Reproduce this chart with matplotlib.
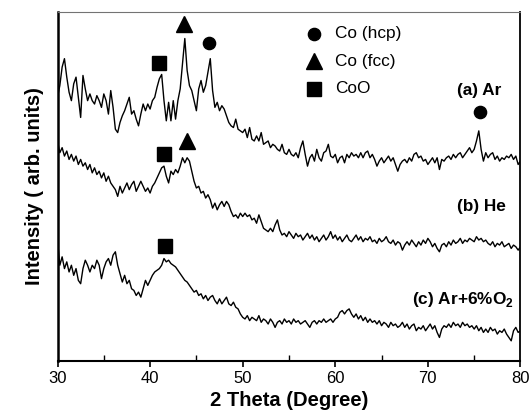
import numpy as np
import matplotlib
matplotlib.use('Agg')
import matplotlib.pyplot as plt
from matplotlib.ticker import MultipleLocator

plt.rcParams['font.family'] = ['Liberation Sans', 'DejaVu Sans']
plt.rcParams['mathtext.fontset'] = 'custom'
plt.rcParams['mathtext.rm'] = 'Liberation Sans'
plt.rcParams['mathtext.bf'] = 'Liberation Sans:bold'

# 2 theta sampling grid (degrees), 0.25 deg step
two_theta = np.linspace(30, 80, 201)

# (a) Ar  -- intensity (arb. units)
int_ar = [
    785, 820, 875, 900, 845, 800, 775, 825, 845, 785,
    725, 850, 810, 775, 795, 775, 765, 790, 775, 755,
    795, 775, 735, 805, 755, 690, 680, 710, 730, 745,
    765, 785, 735, 745, 720, 700, 735, 765, 745, 765,
    750, 775, 785, 815, 840, 853, 775, 715, 770, 715,
    775, 720, 775, 810, 885, 960, 865, 820, 805, 775,
    745, 810, 835, 800, 820, 860, 900, 805, 755, 770,
    745, 760, 750, 730, 710, 700, 695, 720, 690, 685,
    680, 690, 665, 695, 660, 655, 670, 655, 680, 645,
    650, 655, 635, 645, 640, 630, 625, 645, 620, 615,
    630, 615, 610, 620, 605, 635, 655, 615, 580, 605,
    615, 595, 630, 605, 595, 620, 625, 645, 610, 605,
    615, 590, 605, 610, 590, 615, 605, 620, 610, 615,
    605, 620, 605, 620, 625, 605, 615, 600, 580, 595,
    605, 590, 600, 610, 595, 605, 585, 565, 585, 595,
    600, 590, 605, 595, 615, 620, 605, 610, 595, 600,
    585, 595, 605, 590, 605, 570, 600, 595, 605, 610,
    600, 615, 605, 615, 620, 605, 615, 625, 635, 620,
    630, 655, 685, 630, 595, 620, 605, 615, 620, 600,
    610, 595, 605, 600, 610, 605, 615, 600, 610, 585,
    595,
]

# (b) He
int_he = [
    655, 620, 635, 610, 625, 600, 615, 595, 610, 585,
    600, 580, 590, 570, 585, 560, 575, 555, 565, 545,
    560, 535, 550, 530, 520, 510, 490, 520, 500, 515,
    530, 510, 525, 535, 505, 520, 535, 520, 505, 515,
    500, 520, 530, 545, 560, 575, 580, 550, 530, 565,
    555, 570, 560, 580, 605, 590, 605, 595, 565, 535,
    515, 520, 500, 505, 485, 495, 480, 455, 470, 450,
    465, 475, 460, 475, 465, 445, 430, 435, 425, 440,
    430, 440, 430, 435, 420, 425, 410, 435, 415, 395,
    390, 385, 395, 385, 405, 420, 390, 375, 380, 370,
    385, 375, 365, 380, 370, 375, 360, 370, 380, 365,
    375, 360, 370, 355, 365, 375, 360, 370, 385, 365,
    375, 360, 370, 355, 365, 375, 360, 355, 365, 375,
    360, 370, 355, 365, 360, 370, 355, 360, 350, 365,
    355, 360, 370, 355, 350, 360, 345, 355, 350, 330,
    345, 355, 345, 360, 350, 340, 355, 345, 360, 350,
    365, 355, 340, 350, 335, 325, 345, 350, 340, 355,
    345, 360, 350, 355, 365, 350, 360, 355, 365, 360,
    355, 370, 360, 365, 355, 360, 350, 345, 355, 340,
    350, 345, 355, 340, 345, 350, 335, 345, 340, 330,
    340,
]

# (c) Ar + 6% O2
int_ar_o2 = [
    360, 285, 310, 275, 295, 265, 285, 255, 275, 240,
    230, 275, 300, 285, 265, 285, 275, 300, 285, 245,
    275, 295, 305, 285, 315, 325, 285, 260, 235, 255,
    230, 240, 215, 210, 195, 205, 190, 215, 240, 225,
    240, 255, 265, 270, 275, 285, 305, 295, 300, 290,
    285, 280, 270, 260, 250, 240, 235, 225, 215, 205,
    210, 195, 200, 185, 195, 180, 190, 195, 180, 170,
    185, 170, 180, 190, 170, 165, 175, 160, 155, 140,
    130, 125, 135, 120, 130, 125, 120, 135, 115, 125,
    120, 110, 125, 115, 100, 115, 120, 110, 125, 115,
    120, 110, 125, 115, 120, 110, 115, 120, 110, 100,
    115, 120, 110, 120, 115, 125, 115, 120, 125, 115,
    125, 130, 145, 150, 140, 150, 155, 140, 130, 140,
    125, 135, 120, 130, 115, 125, 115, 120, 110, 120,
    105, 115, 110, 100, 115, 105, 110, 100, 105, 115,
    100, 110, 95, 105, 110, 90, 100, 95, 105, 90,
    100, 110, 95, 105, 85, 70, 95, 105, 100, 110,
    100, 115, 105, 110, 100, 115, 105, 110, 100, 105,
    95, 105, 90, 100, 85, 95, 85, 100, 90, 95,
    80, 90, 85, 95, 80, 70, 60, 90, 100, 85,
    90,
]

curve_labels = ['(a) Ar', '(b) He', r'(c) Ar+6%O$_\mathbf{2}$']
label_theta = [77.9, 78.4, 79.3]
label_height = [805, 460, 182]

# phase markers above the reflections
phase_names = ['Co (hcp)', 'Co (fcc)', 'CoO']
phase_symbols = ['o', '^', 's']
phase_sizes = [8.8, 12, 9.5]
mark_phase = [0, 1, 2, 0, 2, 1, 2]
mark_theta = [46.4, 43.7, 41.0, 75.6, 41.5, 44.0, 41.6]
mark_height = [948, 1003, 887, 740, 617, 655, 342]

fig = plt.figure(figsize=(5.30, 4.13), dpi=100)
ax = fig.add_axes([0.1085, 0.126, 0.8735, 0.845])

for y in (int_ar, int_he, int_ar_o2):
    ax.plot(two_theta, y, color='black', lw=1.0)

for p, t, h in zip(mark_phase, mark_theta, mark_height):
    ax.plot(t, h, linestyle='none', marker=phase_symbols[p],
            markersize=phase_sizes[p], color='black')

for lab, t, h in zip(curve_labels, label_theta, label_height):
    ax.text(t, h, lab, ha='right', va='center', fontsize=12.4, fontweight='bold')

# key in the upper middle
key_y = [0.938, 0.859, 0.780]
for i, name in enumerate(phase_names):
    ax.plot(0.553, key_y[i], transform=ax.transAxes, linestyle='none',
            marker=phase_symbols[i], markersize=phase_sizes[i], color='black')
    ax.text(0.600, key_y[i], name, transform=ax.transAxes, va='center',
            fontsize=12.4)

ax.set_xlim(30, 80)
ax.set_ylim(0, 1039)
ax.xaxis.set_major_locator(MultipleLocator(10))
ax.xaxis.set_minor_locator(MultipleLocator(5))
ax.tick_params(axis='x', which='major', direction='out', length=4, width=1.2,
               labelsize=12, pad=3)
ax.tick_params(axis='x', which='minor', direction='in', length=4, width=1.0)
ax.set_yticks([])

ax.spines['left'].set_linewidth(1.8)
ax.spines['bottom'].set_linewidth(1.5)
ax.spines['right'].set_linewidth(1.3)
ax.spines['top'].set_linewidth(0.8)
ax.spines['top'].set_color('0.45')

ax.set_xlabel('2 Theta (Degree)', fontsize=14.5, fontweight='bold', labelpad=4)
ax.set_ylabel('Intensity ( arb. units)', fontsize=14.5, fontweight='bold', labelpad=10)

fig.savefig('out.png', dpi=100)
